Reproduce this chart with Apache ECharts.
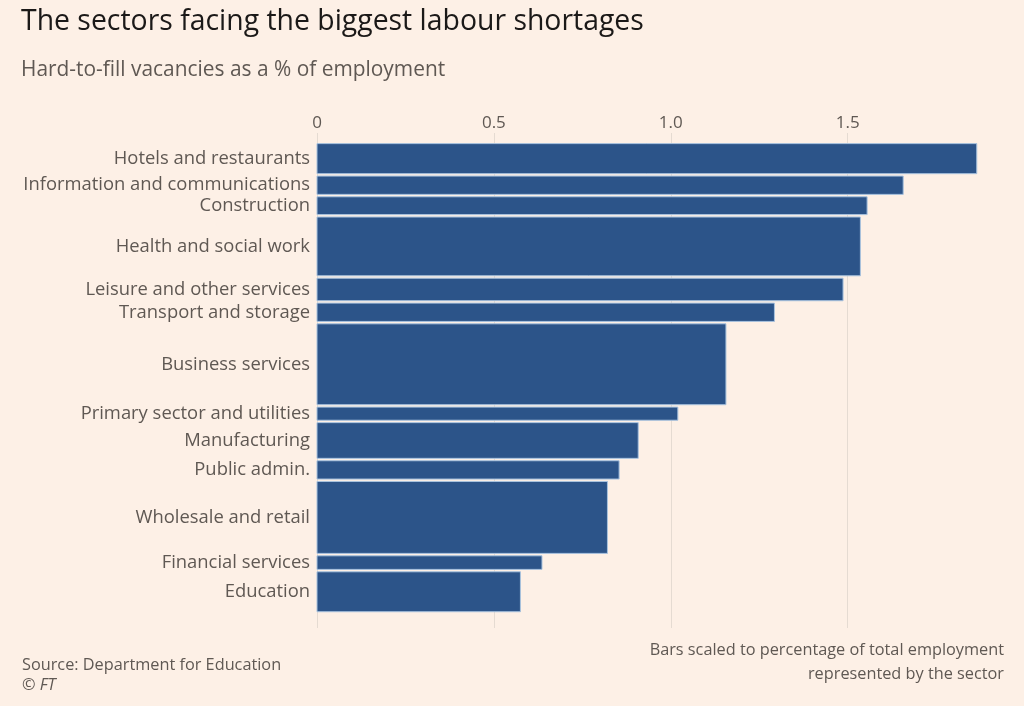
<!DOCTYPE html>
<html>
<head>
<meta charset="utf-8">
<script src="https://cdn.jsdelivr.net/npm/echarts@6/dist/echarts.min.js"></script>
<style>
html,body{margin:0;padding:0;background:#fdf0e6;}
#chart{width:1024px;height:706px;}
</style>
</head>
<body>
<div id="chart"></div>
<script>
// Sectors (top to bottom)
const categories = [
  'Hotels and restaurants',
  'Information and communications',
  'Construction',
  'Health and social work',
  'Leisure and other services',
  'Transport and storage',
  'Business services',
  'Primary sector and utilities',
  'Manufacturing',
  'Public admin.',
  'Wholesale and retail',
  'Financial services',
  'Education'
];
// Hard-to-fill vacancies as % of employment (bar length)
const vacancyRate = [1.865, 1.657, 1.555, 1.536, 1.487, 1.293, 1.156, 1.020, 0.908, 0.854, 0.821, 0.636, 0.575];
// Share of total employment represented by sector, % (bar thickness)
const employmentShare = [6.9, 4.4, 4.3, 13.0, 5.3, 4.4, 17.7, 3.3, 8.1, 4.4, 15.8, 3.4, 9.0];
// Axis ticks
const xTicks = [0, 0.5, 1.0, 1.5];

const FONT = '"Open Sans"';
const textGray = '#5f5853';
const barColor = '#2c5489';
const gridColor = '#e5dbd2';

let acc = 0;
const data = categories.map((c, i) => {
  const start = acc;
  acc += employmentShare[i];
  return [vacancyRate[i], start, acc, c];
});

const chart = echarts.init(document.getElementById('chart'));
chart.setOption({
  backgroundColor: '#fdf0e6',
  animation: false,
  title: [{
    text: 'The sectors facing the biggest labour shortages',
    left: 16, top: 3,
    textStyle: {fontFamily: FONT, fontSize: 28.4, fontWeight: 'normal', color: '#1b1918'}
  }, {
    text: 'Hard-to-fill vacancies as a % of employment',
    left: 16, top: 55,
    textStyle: {fontFamily: FONT, fontSize: 20.9, fontWeight: 'normal', color: textGray}
  }],
  grid: {left: 317, right: 0, top: 133, bottom: 78, containLabel: false},
  xAxis: {
    type: 'value', position: 'top', min: 0, max: 1.99, interval: 0.5,
    axisLine: {show: false}, axisTick: {show: false},
    axisLabel: {
      margin: 1,
      fontFamily: FONT, fontSize: 17, color: textGray,
      formatter: v => xTicks.includes(v) ? (v === 0 ? '0' : v.toFixed(1)) : ''
    },
    splitLine: {show: false}
  },
  yAxis: {
    type: 'value', inverse: true, min: -2, max: 103.2,
    show: false, splitLine: {show: false}
  },
  series: [{
    type: 'custom',
    data: data,
    encode: {x: 0, y: [1, 2]},
    z: 3,
    markLine: {
      silent: true, symbol: 'none', z: 1,
      label: {show: false},
      lineStyle: {color: gridColor, width: 1, type: 'solid'},
      data: xTicks.map(v => ({xAxis: v}))
    },
    renderItem: function (params, api) {
      const v = api.value(0), s = api.value(1), e = api.value(2);
      const p0 = api.coord([0, s]);
      const p1 = api.coord([v, e]);
      const yTop = p0[1] + 1.2, yBot = p1[1] - 1.2;
      return {
        type: 'group',
        children: [{
          type: 'rect',
          shape: {x: p0[0], y: yTop, width: p1[0] - p0[0], height: yBot - yTop},
          style: {fill: barColor, stroke: '#a9c3df', lineWidth: 1}
        }, {
          type: 'text',
          style: {
            text: categories[params.dataIndex],
            x: p0[0] - 7, y: (p0[1] + p1[1]) / 2,
            align: 'right', verticalAlign: 'middle',
            fontFamily: FONT, fontSize: 18.4, fill: textGray
          }
        }]
      };
    }
  }],
  graphic: [
    {type: 'text', left: 22, top: 657, style: {text: 'Source: Department for Education', fontFamily: FONT, fontSize: 16.3, fill: textGray}},
    {type: 'text', left: 22, top: 677, style: {text: '© FT', fontFamily: FONT, fontSize: 16.3, fontStyle: 'italic', fill: textGray}},
    {type: 'text', right: 20, top: 642, style: {text: 'Bars scaled to percentage of total employment', fontFamily: FONT, fontSize: 16.3, fill: textGray, align: 'right'}},
    {type: 'text', right: 20, top: 666, style: {text: 'represented by the sector', fontFamily: FONT, fontSize: 16.3, fill: textGray, align: 'right'}}
  ]
});
</script>
</body>
</html>
